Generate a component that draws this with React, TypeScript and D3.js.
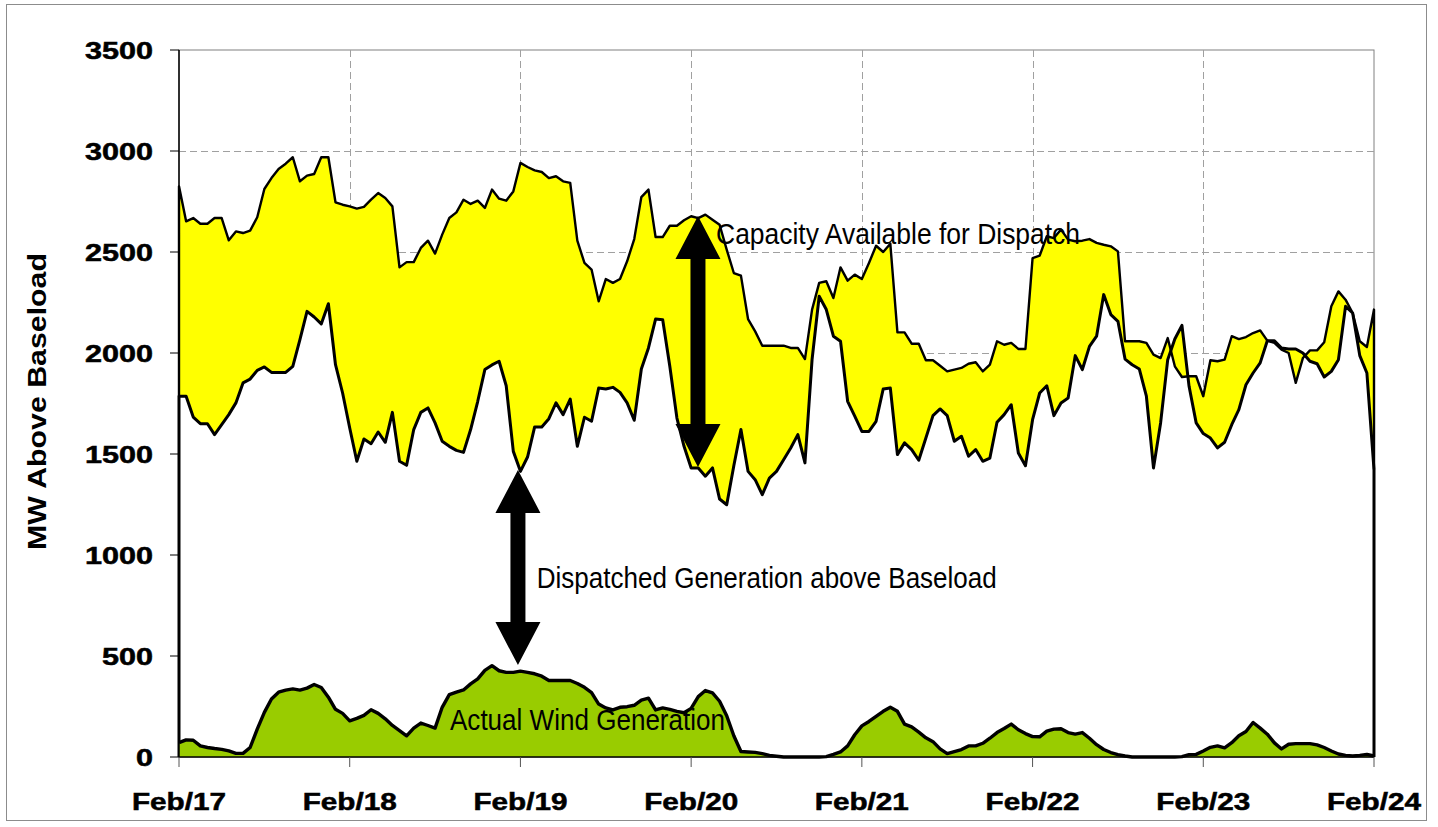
import React from 'react';
import * as d3 from 'd3';

const dayLabels = ["Feb/17", "Feb/18", "Feb/19", "Feb/20", "Feb/21", "Feb/22", "Feb/23", "Feb/24"];
const yTickValues = [0, 500, 1000, 1500, 2000, 2500, 3000, 3500];

// hourly values, Feb/17 00:00 .. Feb/24 00:00 (169 points)
const capacityAvailable = [
  2825, 2652, 2668, 2640, 2640, 2668, 2668, 2558, 2602, 2594, 2606, 2672, 2812, 2866, 2911, 2937, 2969, 2850, 2878, 2886, 2969, 2969, 2746, 2734,
  2726, 2715, 2723, 2759, 2792, 2767, 2726, 2424, 2450, 2450, 2520, 2556, 2492, 2586, 2668, 2696, 2759, 2738, 2754, 2718, 2809, 2764, 2754, 2800,
  2941, 2921, 2904, 2896, 2866, 2875, 2850, 2842, 2556, 2446, 2413, 2256, 2366, 2347, 2366, 2454, 2564, 2772, 2809, 2574, 2574, 2630, 2630, 2657,
  2677, 2668, 2685, 2660, 2635, 2512, 2396, 2383, 2168, 2107, 2036, 2036, 2036, 2036, 2025, 2025, 1970, 2215, 2347, 2355, 2272, 2424, 2358, 2388,
  2366, 2446, 2531, 2500, 2541, 2102, 2102, 2046, 2046, 1964, 1964, 1937, 1909, 1918, 1926, 1947, 1954, 1909, 1942, 2058, 2041, 2050, 2020, 2020,
  2470, 2482, 2578, 2569, 2611, 2561, 2553, 2556, 2564, 2545, 2536, 2528, 2503, 2058, 2058, 2058, 2050, 1992, 1975, 2074, 1934, 1881, 1885, 1885,
  1786, 1964, 1959, 1967, 2083, 2069, 2079, 2099, 2112, 2061, 2050, 2017, 2000, 1852, 1975, 2013, 2013, 2053, 2231, 2305, 2264, 2198, 2058, 2030,
  2215
];

const dispatchedGeneration = [
  1786, 1786, 1683, 1650, 1650, 1596, 1645, 1695, 1753, 1852, 1871, 1914, 1931, 1904, 1904, 1904, 1934, 2066, 2206, 2178, 2144, 2244, 1942, 1802,
  1629, 1464, 1574, 1551, 1609, 1558, 1706, 1464, 1444, 1621, 1706, 1728, 1654, 1563, 1538, 1518, 1508, 1621, 1761, 1918, 1941, 1959, 1838, 1513,
  1414, 1485, 1634, 1634, 1675, 1753, 1695, 1772, 1538, 1682, 1662, 1827, 1822, 1830, 1805, 1753, 1667, 1921, 2025, 2168, 2165, 1934, 1678, 1538,
  1431, 1431, 1390, 1431, 1277, 1249, 1442, 1621, 1414, 1373, 1299, 1381, 1414, 1472, 1530, 1596, 1456, 1967, 2281, 2215, 2083, 2058, 1761, 1687,
  1612, 1612, 1662, 1822, 1827, 1497, 1555, 1522, 1469, 1579, 1690, 1723, 1690, 1563, 1588, 1489, 1522, 1464, 1480, 1657, 1695, 1744, 1505, 1442,
  1670, 1802, 1838, 1690, 1753, 1777, 1987, 1918, 2033, 2083, 2289, 2190, 2157, 1970, 1942, 1921, 1786, 1431, 1654, 1967, 2069, 2137, 1835, 1654,
  1601, 1579, 1530, 1558, 1645, 1720, 1843, 1901, 1951, 2061, 2061, 2025, 2020, 2020, 2000, 1959, 1947, 1881, 1909, 1967, 2231, 2198, 1987, 1901,
  1423
];

const windGeneration = [
  71, 85, 83, 55, 47, 42, 38, 30, 18, 18, 47, 138, 221, 287, 321, 331, 337, 331, 341, 359, 344, 296, 236, 216,
  179, 191, 206, 234, 216, 189, 156, 131, 105, 143, 168, 156, 143, 246, 309, 321, 332, 362, 387, 429, 452, 427, 419, 419,
  425, 419, 412, 400, 379, 379, 379, 379, 364, 345, 319, 262, 243, 233, 246, 249, 256, 282, 291, 233, 243, 236, 226, 219,
  241, 299, 329, 317, 276, 204, 105, 27, 25, 23, 17, 8, 4, 0, 0, 0, 0, 0, 0, 2, 13, 25, 55, 110,
  154, 176, 201, 226, 246, 226, 163, 149, 123, 95, 76, 40, 17, 27, 37, 55, 55, 68, 93, 121, 141, 163, 135, 116,
  101, 100, 128, 138, 140, 121, 113, 121, 93, 61, 37, 22, 12, 5, 0, 0, 0, 0, 0, 0, 0, 2, 12, 13,
  30, 48, 55, 45, 71, 105, 126, 171, 143, 113, 70, 40, 63, 66, 66, 66, 60, 47, 30, 15, 8, 5, 8, 13,
  5
];

// annotation anchors in data units (hour index, MW)
const capacityArrow = { hour: 72.96, top: 2678, bottom: 1436 };
const dispatchArrow = { hour: 47.65, top: 1421, bottom: 455 };
const capacityLabel = { hour: 75.5, value: 2540, text: "Capacity Available for Dispatch", len: 364 };
const dispatchLabel = { hour: 50.3, value: 837, text: "Dispatched Generation above Baseload", len: 460 };
const windLabel = { hour: 38.1, value: 134, text: "Actual Wind Generation", len: 275 };

const W = 1438, H = 827;
const left = 179, right = 1374, top = 50, bottom = 757;
const FONT = "'Liberation Sans', Arial, Helvetica, sans-serif";

function arrowPoints(cx: number, yTop: number, yBot: number) {
  const hh = 43, hw = 22.5, sw = 7.5;
  const p = [
    [cx, yTop], [cx + hw, yTop + hh], [cx + sw, yTop + hh], [cx + sw, yBot - hh], [cx + hw, yBot - hh],
    [cx, yBot], [cx - hw, yBot - hh], [cx - sw, yBot - hh], [cx - sw, yTop + hh], [cx - hw, yTop + hh],
  ];
  return p.map((d) => d.join(",")).join(" ");
}

export default function App() {
  const n = capacityAvailable.length;
  const x = d3.scaleLinear().domain([0, n - 1]).range([left, right]);
  const y = d3.scaleLinear().domain([0, 3500]).range([bottom, top]);
  const idx = d3.range(n);

  const between = d3.area<number>()
    .x((i) => x(i))
    .y0((i) => y(dispatchedGeneration[i]))
    .y1((i) => y(capacityAvailable[i]))(idx) as string;

  const underMin = d3.area<number>()
    .x((i) => x(i))
    .y0(y(0))
    .y1((i) => y(Math.min(dispatchedGeneration[i], capacityAvailable[i])))(idx) as string;

  const line = d3.line<[number, number]>().x((d) => x(d[0])).y((d) => y(d[1]));
  const upperPts: [number, number][] = [[0, dispatchedGeneration[0]], ...idx.map((i) => [i, capacityAvailable[i]] as [number, number]), [n - 1, dispatchedGeneration[n - 1]]];
  const lowerPts: [number, number][] = [[0, 0], ...idx.map((i) => [i, dispatchedGeneration[i]] as [number, number]), [n - 1, 0]];
  const upperLine = line(upperPts) as string;
  const lowerLine = line(lowerPts) as string;

  const windArea = d3.area<number>().x((i) => x(i)).y0(y(0)).y1((i) => y(windGeneration[i]))(idx) as string;
  const windLine = d3.line<number>().x((i) => x(i)).y((i) => y(windGeneration[i]))(idx) as string;

  const dayHours = dayLabels.map((_, k) => k * 24);
  const gridVals = yTickValues.filter((v) => v > 0 && v < 3500);

  return (
    <svg width={W} height={H} style={{ position: "absolute", left: 0, top: 0, background: "#fff" }} xmlns="http://www.w3.org/2000/svg">
      <rect x={0} y={0} width={W} height={H} fill="#fff" />
      <rect x={6.5} y={4.5} width={1420} height={816} fill="none" stroke="#8c8c8c" strokeWidth={1} />
      {/* plot area border */}
      <rect x={left} y={top} width={right - left} height={bottom - top} fill="#fff" stroke="#808080" strokeWidth={1} />
      {/* gridlines */}
      <g stroke="#a0a0a0" strokeWidth={1} strokeDasharray="7,4">
        {gridVals.map((v) => (
          <line key={"h" + v} x1={left} x2={right} y1={Math.round(y(v)) + 0.5} y2={Math.round(y(v)) + 0.5} />
        ))}
        {dayHours.slice(1, -1).map((h) => (
          <line key={"v" + h} x1={Math.round(x(h)) + 0.5} x2={Math.round(x(h)) + 0.5} y1={top} y2={bottom} />
        ))}
      </g>
      {/* capacity band */}
      <path d={between} fill="#ffff00" stroke="none" />
      <path d={underMin} fill="#fff" stroke="none" />
      <path d={upperLine} fill="none" stroke="#000" strokeWidth={2.4} strokeLinejoin="round" />
      <path d={lowerLine} fill="none" stroke="#000" strokeWidth={3} strokeLinejoin="round" />
      {/* wind */}
      <path d={windArea} fill="#99cc00" stroke="none" />
      <path d={windLine} fill="none" stroke="#000" strokeWidth={3.4} strokeLinejoin="round" />
      {/* axes */}
      <line x1={left} x2={left} y1={top} y2={bottom + 0.5} stroke="#000" strokeWidth={1.5} />
      <line x1={left} x2={right} y1={bottom} y2={bottom} stroke="#000" strokeWidth={1.5} />
      {yTickValues.map((v) => (
        <line key={"yt" + v} x1={left - 9} x2={left} y1={y(v)} y2={y(v)} stroke="#000" strokeWidth={1} />
      ))}
      {dayHours.map((h) => (
        <line key={"xt" + h} x1={x(h)} x2={x(h)} y1={bottom} y2={bottom + 10} stroke="#555" strokeWidth={1} />
      ))}
      {/* tick labels */}
      <g fontFamily={FONT} fontWeight="bold" fontSize={23} fill="#000" stroke="#000" strokeWidth={0.5}>
        {yTickValues.map((v) => {
          const s = String(v);
          const len = s.length * 17;
          return (
            <text key={"yl" + v} x={153 - len} y={y(v) + 8.5} textLength={len} lengthAdjust="spacingAndGlyphs">{s}</text>
          );
        })}
        {dayLabels.map((lab, k) => (
          <text key={lab} x={x(dayHours[k]) - 47} y={810} textLength={94} lengthAdjust="spacingAndGlyphs">{lab}</text>
        ))}
      </g>
      <text transform="translate(46,550) rotate(-90)" x={0} y={0} fontFamily={FONT} fontWeight="bold" fontSize={26}
        textLength={297} lengthAdjust="spacingAndGlyphs" fill="#000">MW Above Baseload</text>
      {/* arrows */}
      <polygon points={arrowPoints(x(capacityArrow.hour), y(capacityArrow.top), y(capacityArrow.bottom))} fill="#000" />
      <polygon points={arrowPoints(x(dispatchArrow.hour), y(dispatchArrow.top), y(dispatchArrow.bottom))} fill="#000" />
      {/* annotations */}
      <g fontFamily={FONT} fontSize={29} fill="#000">
        {[capacityLabel, dispatchLabel, windLabel].map((a) => (
          <text key={a.text} x={x(a.hour)} y={y(a.value)} textLength={a.len} lengthAdjust="spacingAndGlyphs">{a.text}</text>
        ))}
      </g>
    </svg>
  );
}
